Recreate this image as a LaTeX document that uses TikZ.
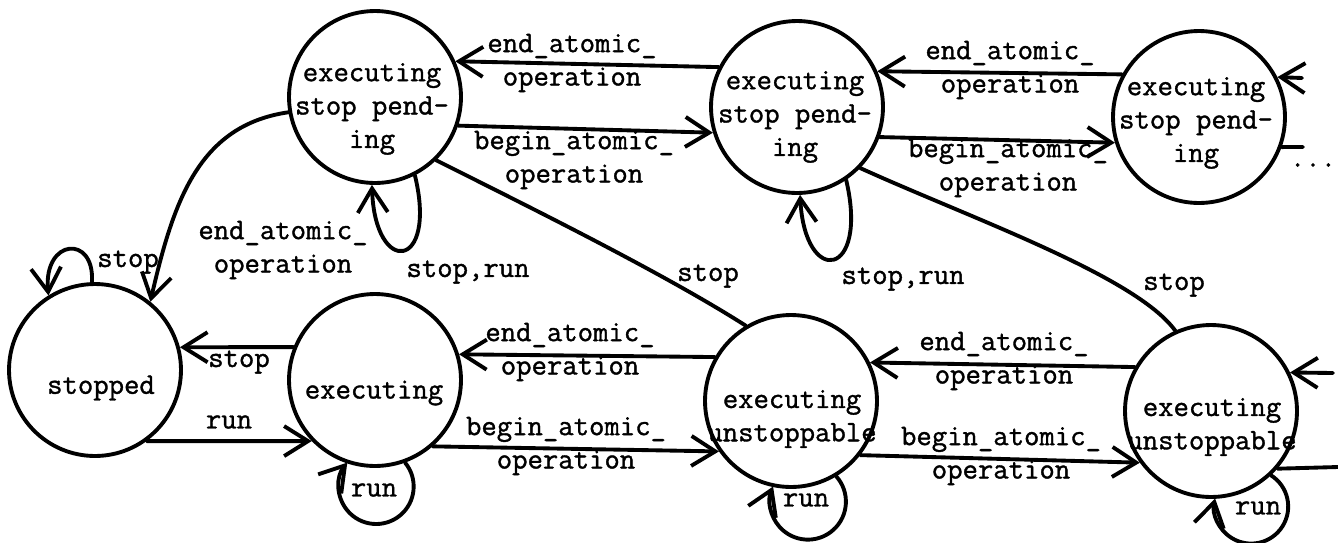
\documentclass[tikz,border=0pt]{standalone}
\usepackage{fontspec}
\newfontfamily\twfont{Latin Modern Mono}[FakeBold=1.2]
\usetikzlibrary{arrows.meta}
\begin{document}
\begin{tikzpicture}[x=0.02cm,y=-0.02cm,
  line cap=round,line join=round,
  state/.style={circle,draw,line width=2.2pt,minimum size=3.44cm,inner sep=0pt},
  txt/.style={font=\fontsize{17}{19}\selectfont\twfont,align=center,inner sep=0pt},
  conn/.style={line width=2.2pt},
  arr/.style={conn,-{Straight Barb[length=4.8mm,width=6mm]}}]
\useasboundingbox (0,0) rectangle (1338,542);

% states
\node[state] (S) at (95,370) {};
\node[state] (E) at (375,380) {};
\node[state] (U1) at (791,401) {};
\node[state] (U2) at (1211,411) {};
\node[state] (T1) at (375,97) {};
\node[state] (T2) at (797,107) {};
\node[state] (T3) at (1199,117) {};

% state texts
\node[txt] (St) at (101,388) {stopped};
\node[txt] (Et) at (374,393) {executing};
\node[txt] (U1t) at (792,419) {executing\\unstoppable};
\node[txt] (U2t) at (1212,427) {executing\\unstoppable};
\node[txt] (T1t) at (372,109) {executing\\stop pend-\\ing};
\node[txt] (T2t) at (795,117) {executing\\stop pend-\\ing};
\node[txt] (T3t) at (1196,123) {executing\\stop pend-\\ing};

% horizontal transitions
\draw[arr] (T2.153) -- (T1.24);
\draw[arr] (T1.-19) -- (T2.197);
\draw[arr] (T3.151) -- (T2.24);
\draw[arr] (T2.-20) -- (T3.197);
\draw[arr] (E.158) -- (S.15);
\draw[arr] (S.-54) -- (E.224);
\draw[arr] (U1.150) -- (E.17);
\draw[arr] (E.-49) -- (U1.215);
\draw[arr] (U2.150) -- (U1.26);
\draw[arr] (U1.-38) -- (U2.216);

% stubs on the right
\coordinate (r1) at (1302,78);
\coordinate (r2) at (1303,147);
\coordinate (r3) at (1333,373);
\coordinate (r4) at (1338,467);
\draw[arr] (r1) -- (T3.27);
\draw[conn] (T3.-20) -- (r2);
\draw[arr] (r3) -- (U2.26);
\draw[conn] (U2.-41) -- (r4);
\node[txt] (dots) at (1313,165) {...};

% self loops
\draw[arr] (T1.-63) .. controls +(23,95) and +(3,92) .. (T1.-92);
\draw[arr] (T2.-56) .. controls +(23,98) and +(5,93) .. (T2.-88);
\draw[arr] (S.92) .. controls +(3,-48) and +(-5,-57) .. (S.122);
\draw[arr] (E.-70) arc[start angle=39.6, end angle=-219.6, radius=0.75cm];
\draw[arr] (U1.-59) arc[start angle=41.7, end angle=-203.5, radius=0.76cm];
\draw[arr] (U2.-47) arc[start angle=57.7, end angle=-192.6, radius=0.74cm];

% long curves
\draw[arr] (T1.190) .. controls +(-90,13) and +(23,-100) .. (S.51);
\draw[conn] (T1.-46) .. controls +(100,50) and +(-80,-51) .. (U1.121);
\draw[conn] (T2.-44) .. controls +(110,50) and +(-40,-55) .. (U2.114);

% loop labels
\node[txt] (Srl) at (128,262) {stop};
\node[txt] (Erl) at (374,490) {run};
\node[txt] (U1rl) at (806,500) {run};
\node[txt] (U2rl) at (1258,508) {run};
\node[txt] (T1rl) at (468,272) {stop,run};
\node[txt] (T2rl) at (903,279) {stop,run};

% edge labels
\node[txt] (l1) at (572,63) {end\_atomic\_\\operation};
\node[txt] (l2) at (574,160) {begin\_atomic\_\\operation};
\node[txt] (l3) at (1010,70) {end\_atomic\_\\operation};
\node[txt] (l4) at (1008,168) {begin\_atomic\_\\operation};
\node[txt] (l5) at (239,362) {stop};
\node[txt] (l6) at (229,422) {run};
\node[txt] (l7) at (570,352) {end\_atomic\_\\operation};
\node[txt] (l8) at (566,446) {begin\_atomic\_\\operation};
\node[txt] (l9) at (1004,361) {end\_atomic\_\\operation};
\node[txt] (l10) at (1001,456) {begin\_atomic\_\\operation};
\node[txt] (l11) at (283,250) {end\_atomic\_\\operation};
\node[txt] (l12) at (708,276) {stop};
\node[txt] (l13) at (1174,285) {stop};
\end{tikzpicture}
\end{document}
